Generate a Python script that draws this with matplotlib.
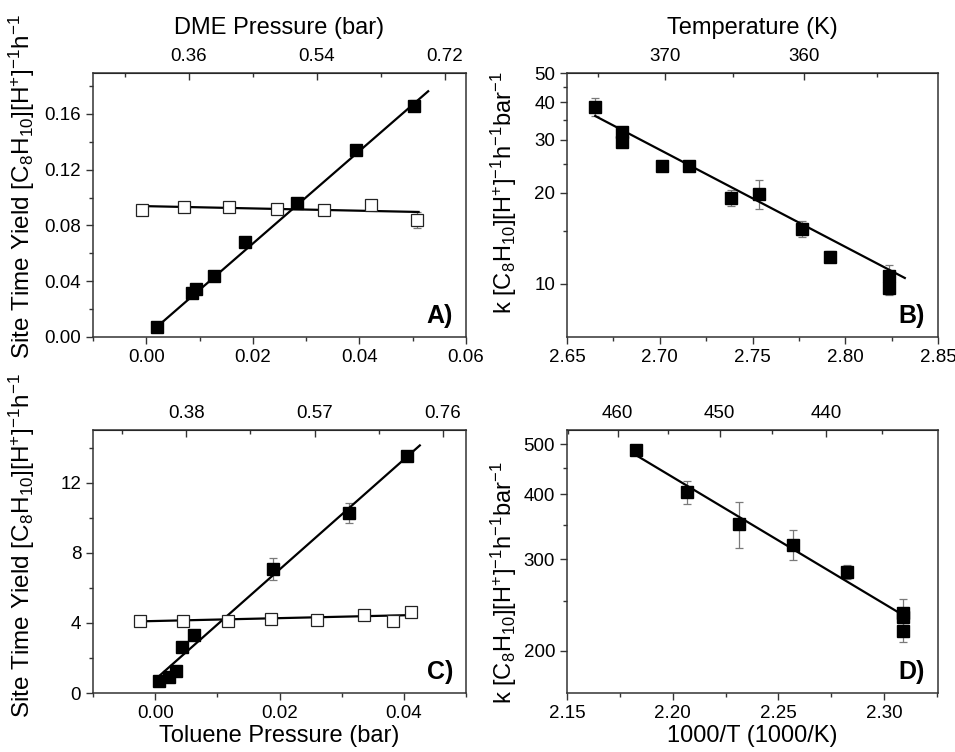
import numpy as np
import matplotlib
matplotlib.use('Agg')
import matplotlib.pyplot as plt
from matplotlib.ticker import NullFormatter

plt.rcParams['font.family'] = ['Liberation Sans', 'DejaVu Sans']
plt.rcParams['mathtext.fontset'] = 'custom'
plt.rcParams['mathtext.rm'] = 'Liberation Sans'
plt.rcParams['mathtext.it'] = 'Liberation Sans:italic'
plt.rcParams['mathtext.bf'] = 'Liberation Sans:bold'

# ---- panel A: site time yield vs pressure ----
a_fill_x = [0.0020, 0.0085, 0.0093, 0.0127, 0.0185, 0.0282, 0.0394, 0.0503]
a_fill_y = [0.0072, 0.0317, 0.0345, 0.0437, 0.0681, 0.0960, 0.1339, 0.1660]
a_fill_e = [0.0010, 0.0015, 0.0012, 0.0012, 0.0015, 0.0015, 0.0015, 0.0040]
a_open_x = [-0.0008, 0.0071, 0.0156, 0.0245, 0.0334, 0.0422, 0.0508]
a_open_y = [0.0912, 0.0933, 0.0931, 0.0921, 0.0912, 0.0945, 0.0840]
a_open_e = [0.0020, 0.0025, 0.0025, 0.0025, 0.0020, 0.0030, 0.0055]
a_fit1_x = [0.00125, 0.0529]
a_fit1_y = [0.0048, 0.1763]
a_fit2_x = [-0.0016, 0.0511]
a_fit2_y = [0.0940, 0.0897]

# ---- panel B: Arrhenius ----
b_x = [2.6652, 2.6796, 2.6796, 2.7013, 2.7160, 2.7383, 2.7535, 2.7765, 2.7920, 2.8236, 2.8236]
b_y = [38.6, 31.8, 29.5, 24.6, 24.5, 19.3, 19.9, 15.2, 12.3, 10.6, 9.7]
b_e = [2.6, 0.8, 1.2, 0.5, 0.4, 1.2, 2.2, 0.95, 0.5, 0.9, 0.5]
b_fit_x = [2.6652, 2.8321]
b_fit_y = [36.0, 10.44]

# ---- panel C: site time yield vs pressure ----
c_fill_x = [0.0006, 0.0023, 0.0034, 0.0043, 0.0062, 0.0189, 0.0312, 0.0405]
c_fill_y = [0.66, 0.89, 1.27, 2.60, 3.32, 7.09, 10.27, 13.50]
c_fill_e = [0.05, 0.05, 0.08, 0.08, 0.08, 0.63, 0.55, 0.10]
c_open_x = [-0.0024, 0.0044, 0.0117, 0.0187, 0.0261, 0.0336, 0.0382, 0.0411]
c_open_y = [4.13, 4.13, 4.13, 4.21, 4.17, 4.45, 4.13, 4.61]
c_open_e = [0.12, 0.12, 0.10, 0.15, 0.15, 0.20, 0.15, 0.10]
c_fit1_x = [0.00027, 0.04257]
c_fit1_y = [0.853, 14.12]
c_fit2_x = [-0.0032, 0.04203]
c_fit2_y = [4.08, 4.45]

# ---- panel D: Arrhenius ----
d_x = [2.1826, 2.2067, 2.2315, 2.2567, 2.2825, 2.3089, 2.3089, 2.3089]
d_y = [487, 404, 351, 320, 284, 237, 232, 218]
d_e = [5, 20, 36, 21, 9, 15, 5, 10]
d_fit_x = [2.1826, 2.3066]
d_fit_y = [476, 237.5]

W, H = 955, 752
fig = plt.figure(figsize=(W / 100, H / 100), dpi=100)

def box(l, r, t, b):
    return fig.add_axes([l / W, (H - b) / H, (r - l) / W, (b - t) / H])

ax_a = box(93, 466, 73, 337)
ax_b = box(567, 938, 73, 337)
ax_c = box(93, 466, 430, 693)
ax_d = box(567, 938, 430, 693)

spine_col = '#333333'
err_col = '#7a7a7a'
ms = 8.0
tfs = 13.5   # tick label size
lfs = 17     # axis label size

def style(ax):
    for s in ax.spines.values():
        s.set_color(spine_col)
        s.set_linewidth(1.1)
    ax.tick_params(which='both', direction='out', top=False, right=False,
                   colors=spine_col, labelcolor='black', labelsize=tfs)
    ax.tick_params(which='major', length=5, width=1.0)
    ax.tick_params(which='minor', length=3, width=1.0)

def style_top(sec):
    sec.tick_params(which='both', direction='in', colors=spine_col,
                    labelcolor='black', labelsize=tfs, pad=6)
    sec.tick_params(which='major', length=5, width=1.0)
    sec.tick_params(which='minor', length=3, width=1.0)

def points(ax, x, y, e, filled=True):
    ax.errorbar(x, y, yerr=e, fmt='none', ecolor=err_col, elinewidth=0.9,
                capsize=3, capthick=0.9, zorder=2)
    if filled:
        ax.plot(x, y, 's', color='black', ms=ms, zorder=4)
    else:
        ax.plot(x, y, 's', mfc='white', mec='#222222', mew=0.9, ms=ms, zorder=4)

def inv(v):
    v = np.asarray(v, dtype=float)
    with np.errstate(divide='ignore', invalid='ignore'):
        return 1000.0 / v

ylab_sty = "Site Time Yield [C$_8$H$_{10}$][H$^{+}$]$^{-1}$h$^{-1}$"
klab = "k [C$_8$H$_{10}$][H$^{+}$]$^{-1}$h$^{-1}$bar$^{-1}$"

# A
style(ax_a)
points(ax_a, a_open_x, a_open_y, a_open_e, filled=False)
points(ax_a, a_fill_x, a_fill_y, a_fill_e)
ax_a.plot(a_fit1_x, a_fit1_y, color='black', lw=1.6, zorder=3)
ax_a.plot(a_fit2_x, a_fit2_y, color='black', lw=1.6, zorder=3)
ax_a.set_xlim(-0.01, 0.06)
ax_a.set_ylim(0, 0.1894)
ax_a.set_xticks([0.0, 0.02, 0.04, 0.06])
ax_a.set_xticks(np.arange(-0.01, 0.061, 0.01), minor=True)
ax_a.set_xticklabels(['0.00', '0.02', '0.04', '0.06'])
ax_a.set_yticks([0.0, 0.04, 0.08, 0.12, 0.16])
ax_a.set_yticklabels(['0.00', '0.04', '0.08', '0.12', '0.16'])
ax_a.set_yticks(np.arange(0.0, 0.19, 0.02), minor=True)
ax_a.set_ylabel(ylab_sty, fontsize=lfs + 0.5)
ax_a.yaxis.set_label_coords(-0.15, 0.57)
sec_a = ax_a.secondary_xaxis('top', functions=(lambda b: 0.30 + 7.5 * np.asarray(b),
                                               lambda t: (np.asarray(t) - 0.30) / 7.5))
style_top(sec_a)
sec_a.set_xticks([0.36, 0.54, 0.72])
sec_a.set_xticklabels(['0.36', '0.54', '0.72'])
sec_a.set_xticks([0.27, 0.45, 0.63], minor=True)
sec_a.set_xlabel('DME Pressure (bar)', fontsize=lfs, labelpad=10)
ax_a.text(0.965, 0.035, 'A)', transform=ax_a.transAxes, ha='right', va='bottom',
          fontsize=18, fontweight='bold')

# B
style(ax_b)
ax_b.set_yscale('log')
points(ax_b, b_x, b_y, b_e)
ax_b.plot(b_fit_x, b_fit_y, color='black', lw=1.6, zorder=3)
ax_b.set_xlim(2.65, 2.85)
ax_b.set_ylim(6.65, 50)
ax_b.set_xticks([2.65, 2.70, 2.75, 2.80, 2.85])
ax_b.set_xticklabels(['2.65', '2.70', '2.75', '2.80', '2.85'])
ax_b.set_xticks(np.arange(2.65, 2.851, 0.025), minor=True)
ax_b.set_yticks([10, 20, 30, 40, 50])
ax_b.set_yticklabels(['10', '20', '30', '40', '50'])
ax_b.set_yticks([15, 25, 35, 45], minor=True)
ax_b.yaxis.set_minor_formatter(NullFormatter())
ax_b.set_ylabel(klab, fontsize=lfs)
ax_b.yaxis.set_label_coords(-0.13, 0.545)
sec_b = ax_b.secondary_xaxis('top', functions=(inv, inv))
style_top(sec_b)
sec_b.set_xticks([360, 370])
sec_b.set_xticklabels(['360', '370'])
sec_b.set_xticks([355, 365, 375], minor=True)
sec_b.xaxis.set_minor_formatter(NullFormatter())
sec_b.set_xlabel('Temperature (K)', fontsize=lfs, labelpad=10)
ax_b.text(0.965, 0.035, 'B)', transform=ax_b.transAxes, ha='right', va='bottom',
          fontsize=18, fontweight='bold')

# C
style(ax_c)
points(ax_c, c_open_x, c_open_y, c_open_e, filled=False)
points(ax_c, c_fill_x, c_fill_y, c_fill_e)
ax_c.plot(c_fit1_x, c_fit1_y, color='black', lw=1.6, zorder=3)
ax_c.plot(c_fit2_x, c_fit2_y, color='black', lw=1.6, zorder=3)
ax_c.set_xlim(-0.01, 0.05)
ax_c.set_ylim(0, 15)
ax_c.set_xticks([0.0, 0.02, 0.04])
ax_c.set_xticklabels(['0.00', '0.02', '0.04'])
ax_c.set_xticks(np.arange(-0.01, 0.051, 0.01), minor=True)
ax_c.set_yticks([0, 4, 8, 12])
ax_c.set_yticks(np.arange(0, 15, 2), minor=True)
ax_c.set_ylabel(ylab_sty, fontsize=lfs + 0.5)
ax_c.yaxis.set_label_coords(-0.15, 0.56)
ax_c.set_xlabel('Toluene Pressure (bar)', fontsize=lfs, labelpad=2)
sec_c = ax_c.secondary_xaxis('top', functions=(lambda b: 0.334 + 9.2 * np.asarray(b),
                                               lambda t: (np.asarray(t) - 0.334) / 9.2))
style_top(sec_c)
sec_c.set_xticks([0.38, 0.57, 0.76])
sec_c.set_xticklabels(['0.38', '0.57', '0.76'])
sec_c.set_xticks([0.285, 0.475, 0.665], minor=True)
ax_c.text(0.965, 0.035, 'C)', transform=ax_c.transAxes, ha='right', va='bottom',
          fontsize=18, fontweight='bold')

# D
style(ax_d)
ax_d.set_yscale('log')
points(ax_d, d_x, d_y, d_e)
ax_d.plot(d_fit_x, d_fit_y, color='black', lw=1.6, zorder=3)
ax_d.set_xlim(2.15, 2.3255)
ax_d.set_ylim(166, 532)
ax_d.set_xticks([2.15, 2.20, 2.25, 2.30])
ax_d.set_xticklabels(['2.15', '2.20', '2.25', '2.30'])
ax_d.set_xticks(np.arange(2.15, 2.326, 0.025), minor=True)
ax_d.set_yticks([200, 300, 400, 500])
ax_d.set_yticklabels(['200', '300', '400', '500'])
ax_d.set_yticks([250, 350, 450], minor=True)
ax_d.yaxis.set_minor_formatter(NullFormatter())
ax_d.set_ylabel(klab, fontsize=lfs)
ax_d.yaxis.set_label_coords(-0.13, 0.42)
ax_d.set_xlabel('1000/T (1000/K)', fontsize=lfs, labelpad=2)
sec_d = ax_d.secondary_xaxis('top', functions=(inv, inv))
style_top(sec_d)
sec_d.set_xticks([440, 450, 460])
sec_d.set_xticklabels(['440', '450', '460'])
sec_d.set_xticks([435, 445, 455, 465], minor=True)
sec_d.xaxis.set_minor_formatter(NullFormatter())
ax_d.text(0.965, 0.035, 'D)', transform=ax_d.transAxes, ha='right', va='bottom',
          fontsize=18, fontweight='bold')

fig.savefig('out.png', dpi=100)
